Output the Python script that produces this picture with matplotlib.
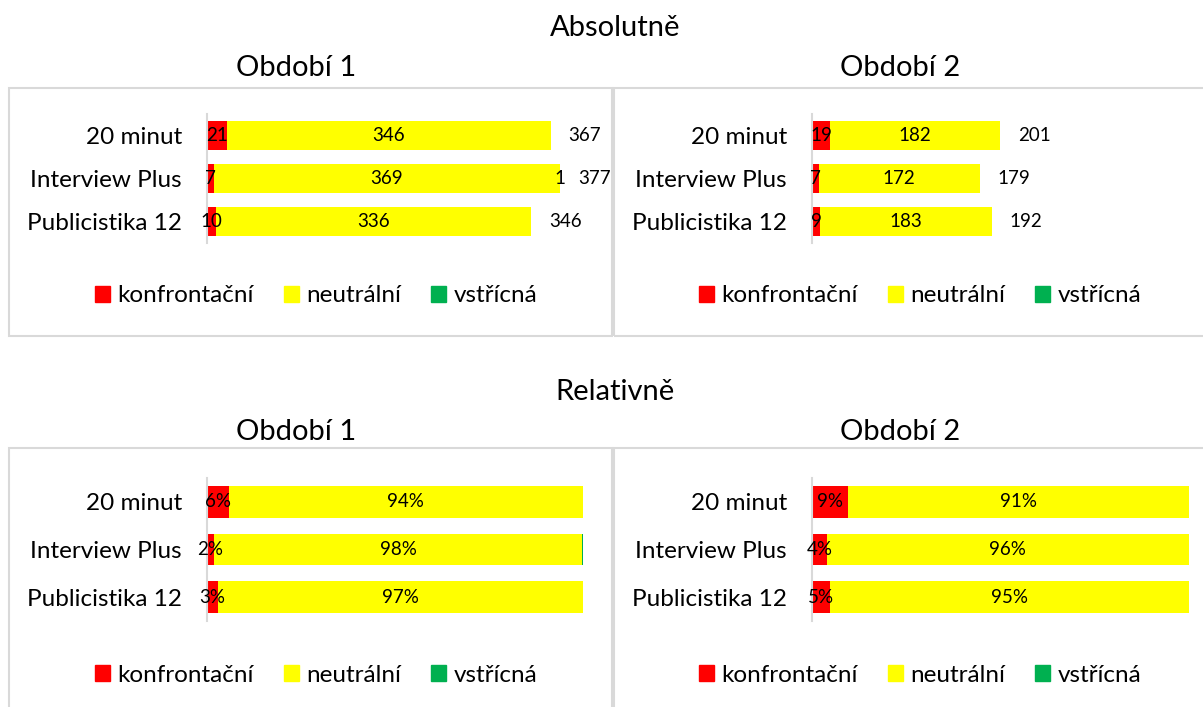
import matplotlib
matplotlib.use("Agg")
from matplotlib import pyplot as plt
from matplotlib.patches import Rectangle, Patch
import numpy as np

plt.rcParams['font.family'] = ['Lato', 'DejaVu Sans']

shows = ["20 minut", "Interview Plus", "Publicistika 12"]
series = ["konfrontační", "neutrální", "vstřícná"]
colors = ["#FF0000", "#FFFF00", "#00B050"]

# counts per period (konfrontační, neutrální, vstřícná)
p1_konfrontacni = [21, 7, 10]
p1_neutralni = [346, 369, 336]
p1_vstricna = [0, 1, 0]
p2_konfrontacni = [19, 7, 9]
p2_neutralni = [182, 172, 183]
p2_vstricna = [0, 0, 0]

W, H = 1203, 707
fig = plt.figure(figsize=(W / 100, H / 100), dpi=100)


def px_axes(x0, y0, x1, y1):
    return fig.add_axes([x0 / W, 1 - y1 / H, (x1 - x0) / W, (y1 - y0) / H])


def box(x0, y0, x1, y1):
    fig.add_artist(Rectangle((x0 / W, 1 - y1 / H), (x1 - x0) / W, (y1 - y0) / H,
                             transform=fig.transFigure, fill=False,
                             edgecolor="#d9d9d9", lw=1.5))


def draw(ax, counts, relative, height):
    counts = np.array(counts, float)
    totals = counts.sum(axis=0)
    y = np.arange(len(shows))
    left = np.zeros(len(shows))
    for name, vals, col in zip(series, counts, colors):
        w = vals / totals if relative else vals
        bars = ax.barh(y, w, left=left, height=height, color=col, label=name)
        if relative:
            labels = ["{:.0f}%".format(round(100 * v / t)) if round(100 * v / t) > 0 else ""
                      for v, t in zip(vals, totals)]
        else:
            labels = ["{:.0f}".format(v) if v > 0 else "" for v in vals]
        ax.bar_label(bars, labels=labels, label_type='center', fontsize=13.5)
        left += w
    if not relative:
        for yi, lf, t in zip(y, left, totals):
            ax.annotate("{:.0f}".format(t), (lf, yi), xytext=(12.5, 0),
                        textcoords='offset points', va='center', ha='left', fontsize=13.5)
    ax.set_xlim(0, 1 if relative else 400)
    ax.set_ylim(2.5, -0.5)
    ax.set_yticks(y, shows)
    ax.tick_params(axis='y', length=0, pad=18, labelsize=17.5)
    ax.set_xticks([])
    for s in ["top", "right", "bottom"]:
        ax.spines[s].set_visible(False)
    ax.spines["left"].set_color("#d9d9d9")
    ax.spines["left"].set_linewidth(1.5)
    ax.patch.set_alpha(0)


# panel frames
box(9, 88, 612, 336)
box(614, 88, 1210, 336)
box(9, 448, 612, 715)
box(614, 448, 1210, 715)

p1 = [p1_konfrontacni, p1_neutralni, p1_vstricna]
p2 = [p2_konfrontacni, p2_neutralni, p2_vstricna]

draw(px_axes(207, 114, 582, 243), p1, False, 0.67)
draw(px_axes(812, 114, 1187, 243), p2, False, 0.67)
draw(px_axes(207, 478, 583, 621), p1, True, 0.66)
draw(px_axes(812, 478, 1189, 621), p2, True, 0.66)

# titles
fig.text(615 / W, 1 - 28 / H, "Absolutně", ha='center', va='center', fontsize=21)
fig.text(615 / W, 1 - 392 / H, "Relativně", ha='center', va='center', fontsize=21)
for yy in (68, 432):
    fig.text(296 / W, 1 - yy / H, "Období 1", ha='center', va='center', fontsize=21)
    fig.text(900 / W, 1 - yy / H, "Období 2", ha='center', va='center', fontsize=21)

handles = [Patch(color=c, label=s) for s, c in zip(series, colors)]
for cx, cy in [(316, 296), (920, 296), (316, 675), (920, 675)]:
    fig.legend(handles=handles, loc='center', bbox_to_anchor=(cx / W, 1 - cy / H),
               ncol=3, frameon=False, fontsize=17.5, handlelength=0.62, handleheight=0.62,
               handletextpad=0.3, columnspacing=1.25, borderpad=0)

plt.savefig('out.png', dpi=100)
